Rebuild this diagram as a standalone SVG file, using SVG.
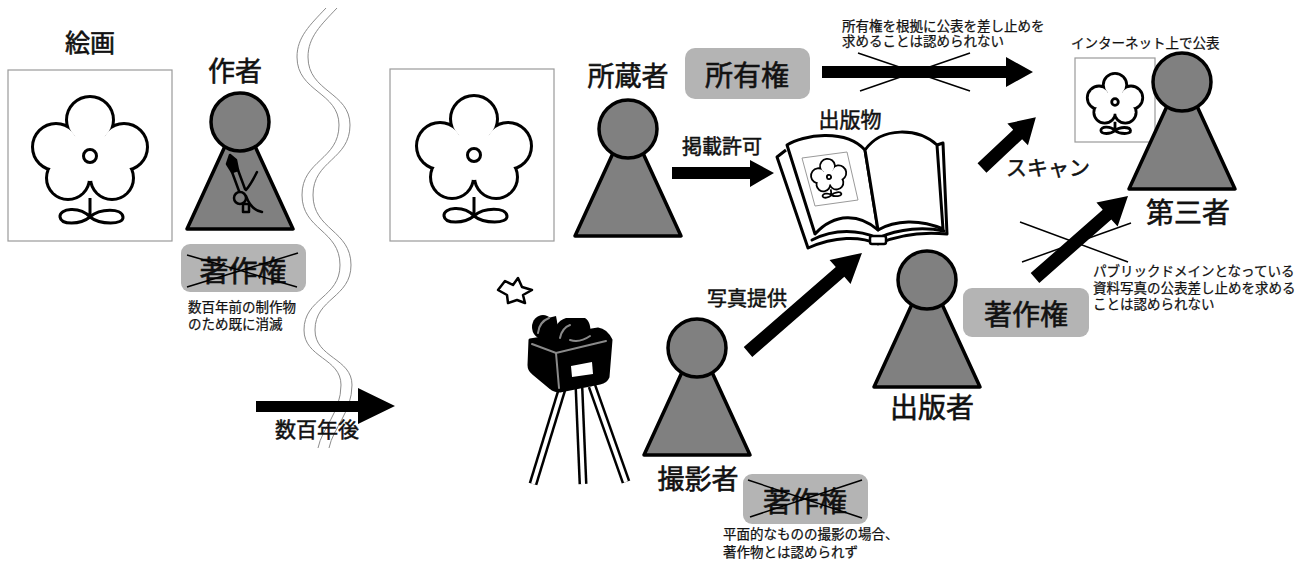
<svg xmlns="http://www.w3.org/2000/svg" width="1315" height="562" viewBox="0 0 1315 562">
<style>
  text { font-family: "Noto Sans CJK JP", "Noto Sans", sans-serif; fill: #111; stroke: #111; stroke-width: 0.6; }
  .lbl { font-size: 27px; text-anchor: middle; }
  .mid { font-size: 20px; text-anchor: middle; stroke-width: 0.5; }
  .note { font-size: 13.5px; stroke-width: 0.25; }
  .frame { fill: #fff; stroke: #9a9a9a; stroke-width: 1.2; }
  .badge { fill: #b4b4b4; }
  .body { fill: #808080; stroke: #000; stroke-width: 3.5; stroke-linejoin: round; }
  .cross { stroke: #000; stroke-width: 1.5; }
  .wave { fill: none; stroke: #8c8c8c; stroke-width: 1; }
  .arrow { fill: #000; }
  .ink { fill: none; stroke: #000; stroke-width: 3; stroke-linecap: round; stroke-linejoin: round; }
  .pg { fill: #fff; stroke: #000; stroke-width: 3; stroke-linejoin: round; }
  .gray { fill: none; stroke: #8a8a8a; stroke-width: 2; stroke-linecap: round; }
</style>
<defs>
  <!-- five petals of the flower motif -->
  <g id="petals">
    <circle cx="0" cy="-36" r="22"/>
    <circle cx="34" cy="-9" r="22"/>
    <circle cx="22" cy="22" r="20"/>
    <circle cx="-22" cy="22" r="20"/>
    <circle cx="-34" cy="-9" r="22"/>
  </g>
  <!-- full-size flower -->
  <g id="flower">
    <use href="#petals" fill="#000" stroke="#000" stroke-width="6"/>
    <use href="#petals" fill="#fff"/>
    <circle r="25" fill="#fff"/>
    <circle r="6.5" fill="none" stroke="#000" stroke-width="3"/>
    <path d="M0 42 V61 M0 61 C-10 50 -31 52 -30 61 C-29 69 -10 69 0 61 C10 52 32 52 33 61 C34 69 10 69 0 61 Z" fill="none" stroke="#000" stroke-width="3"/>
  </g>
  <!-- heavier strokes for scaled-down copies -->
  <g id="flowerSmall">
    <use href="#petals" fill="#000" stroke="#000" stroke-width="12"/>
    <use href="#petals" fill="#fff"/>
    <circle r="25" fill="#fff"/>
    <circle r="7" fill="none" stroke="#000" stroke-width="6"/>
    <path d="M0 42 V61 M0 61 C-10 50 -31 52 -30 61 C-29 69 -10 69 0 61 C10 52 32 52 33 61 C34 69 10 69 0 61 Z" fill="none" stroke="#000" stroke-width="6"/>
  </g>
  <!-- pawn-shaped person -->
  <g id="person">
    <polygon class="body" points="-14,22 14,22 53,107 -53,107"/>
    <circle class="body" r="29"/>
  </g>
</defs>

<rect width="1315" height="562" fill="#fff"/>

<!-- time divider -->
<g id="divider">
  <path class="wave" d="M326 8 C310 25 297 37 297 57 C297 92 339 92 339 125 C339 160 302 160 302 195 C302 230 340 230 340 265 C340 298 304 298 304 330 C304 358 341 358 341 385 C341 412 322 428 318 448"/>
  <path class="wave" d="M337 8 C321 25 308 37 308 57 C308 92 350 92 350 125 C350 160 313 160 313 195 C313 230 351 230 351 265 C351 298 315 298 315 330 C315 358 352 358 352 385 C352 412 333 428 329 448"/>
</g>

<!-- the painting -->
<g id="painting">
  <text class="lbl" x="90" y="52" style="font-size:25px">絵画</text>
  <rect class="frame" x="8" y="70" width="164" height="171"/>
  <use href="#flower" transform="translate(90,156)"/>
</g>

<!-- the painter -->
<g id="author">
  <text class="lbl" x="235" y="81">作者</text>
  <use href="#person" transform="translate(240,122)"/>
  <g class="ink" style="stroke-width:2.5">
    <path d="M227 164 L230 155 L236 160 L238 170 L232 172 Z" fill="#000"/>
    <path d="M232 172 L239 191 M238 170 L245 189"/>
    <circle cx="240" cy="198" r="6"/>
    <rect x="243" y="204" width="6" height="8"/>
    <path d="M257 172 Q251 184 246 190 M246 196 Q251 210 262 212"/>
  </g>
</g>

<g id="author-right">
  <rect class="badge" x="181" y="244" width="125" height="48" rx="9"/>
  <text class="lbl" x="243" y="282" style="font-size:29px">著作権</text>
  <line class="cross" x1="187" y1="255" x2="297" y2="287"/>
  <line class="cross" x1="187" y1="287" x2="298" y2="253"/>
  <text class="note" x="188" y="312">数百年前の制作物<tspan x="188" dy="17">のため既に消滅</tspan></text>
</g>

<!-- the painting centuries later -->
<g id="painting-later">
  <rect class="frame" x="390" y="69" width="164" height="172"/>
  <use href="#flower" transform="translate(474,155)"/>
</g>

<g id="owner">
  <text class="lbl" x="628" y="86">所蔵者</text>
  <use href="#person" transform="translate(628,129)"/>
</g>

<g id="ownership">
  <rect class="badge" x="685" y="48" width="125" height="51" rx="10"/>
  <text class="lbl" x="747" y="86" style="font-size:28px">所有権</text>
</g>

<g id="publication">
  <text class="mid" x="850" y="127" style="font-size:21px">出版物</text>
  <path class="pg" d="M786 150 L777 157 L808 248 C835 236 860 236 878 244 C900 234 925 232 947 234 L943 143 L937 145"/>
  <path class="pg" d="M787 145 C803 135 845 128 865 150 L878 230 C860 214 835 212 815 234 Z"/>
  <path class="pg" d="M865 150 C882 126 918 128 937 145 L943 229 C920 219 895 220 878 230 Z"/>
  <path class="ink" d="M812 240 C835 228 860 230 877 238 M878 238 C900 228 925 227 944 231"/>
  <rect x="870" y="236" width="16" height="8" rx="2" fill="#fff" stroke="#000" stroke-width="2.5"/>
  <polygon points="802,158 847,152 858,200 815,206" fill="#fff" stroke="#9a9a9a" stroke-width="1"/>
  <use href="#flowerSmall" transform="translate(829,177) rotate(-8) scale(0.3)"/>
</g>

<g id="third-party">
  <text class="note" x="1071" y="48">インターネット上で公表</text>
  <rect class="frame" x="1075" y="58" width="80" height="84"/>
  <use href="#flowerSmall" transform="translate(1115,102) scale(0.47)"/>
  <use href="#person" transform="translate(1182,82)"/>
  <text class="lbl" x="1188" y="223" style="font-size:28px">第三者</text>
</g>

<!-- photographer and camera -->
<g id="camera">
  <polygon points="498,290 505,281 513,285 518,278 522,287 532,290 523,295 525,303 517,300 508,303 507,295" fill="#fff" stroke="#000" stroke-width="2.5" stroke-linejoin="round"/>
  <g stroke-linecap="butt">
    <line x1="563" y1="386" x2="533" y2="484" stroke="#000" stroke-width="9"/>
    <line x1="563" y1="386" x2="533" y2="484" stroke="#fff" stroke-width="4"/>
    <line x1="579" y1="388" x2="583" y2="484" stroke="#000" stroke-width="9"/>
    <line x1="579" y1="388" x2="583" y2="484" stroke="#fff" stroke-width="4"/>
    <line x1="592" y1="386" x2="626" y2="482" stroke="#000" stroke-width="9"/>
    <line x1="592" y1="386" x2="626" y2="482" stroke="#fff" stroke-width="4"/>
  </g>
  <path d="M530 340 L598 329 Q606 330 611 340 L608 377 Q606 382 600 383 L560 391 Q554 391 551 388 L533 373 Q529 370 529 365 Z" fill="#000" stroke="#000" stroke-width="3" stroke-linejoin="round"/>
  <ellipse cx="543" cy="327" rx="11" ry="12" fill="#000"/>
  <path d="M540 320 L556 316 L560 338 L546 342 Z" fill="#000"/>
  <path d="M555 338 Q553 322 566 318 L585 318 Q592 322 590 338 Z" fill="#000"/>
  <path class="gray" d="M532 344 L556 353 L606 341 M556 353 L559 388"/>
  <path class="gray" d="M538 333 Q539 322 549 318 M560 338 Q562 328 570 325 M570 340 Q580 343 590 336"/>
  <polygon points="571,366 592,362 593,374 572,377" fill="#fff"/>
</g>

<g id="photographer">
  <use href="#person" transform="translate(697,348)"/>
  <text class="lbl" x="698" y="489">撮影者</text>
</g>

<g id="photographer-right">
  <rect class="badge" x="743" y="474" width="125" height="50" rx="9"/>
  <text class="lbl" x="805" y="512" style="font-size:28px">著作権</text>
  <line class="cross" x1="748" y1="480" x2="862" y2="518"/>
  <line class="cross" x1="750" y1="517" x2="862" y2="480"/>
  <text class="note" x="723" y="539">平面的なものの撮影の場合、<tspan x="723" dy="18">著作物とは認められず</tspan></text>
</g>

<g id="publisher">
  <use href="#person" transform="translate(927,280)"/>
  <text class="lbl" x="932" y="418" style="font-size:28px">出版者</text>
  <rect class="badge" x="963" y="288" width="126" height="49" rx="9"/>
  <text class="lbl" x="1026" y="325" style="font-size:28px">著作権</text>
</g>

<!-- connectors -->
<g id="connectors">
  <polygon class="arrow" points="256,401 358,401 358,388 395,406 358,424 358,412 256,412"/>
  <text class="mid" x="317" y="437" style="font-size:21px">数百年後</text>

  <polygon class="arrow" points="672,167 750,167 750,160 774,173 750,187 750,179 672,179"/>
  <text class="mid" x="722" y="154">掲載許可</text>

  <polygon class="arrow" points="822,66 1006,66 1006,57 1033,72 1006,87 1006,78 822,78"/>
  <line class="cross" x1="858" y1="53" x2="970" y2="91"/>
  <line class="cross" x1="860" y1="91" x2="970" y2="53"/>
  <text class="note" x="842" y="31">所有権を根拠に公表を差し止めを<tspan x="842" dy="15">求めることは認められない</tspan></text>

  <polygon class="arrow" transform="translate(748,352) rotate(-41)" points="0,-6.5 122,-6.5 122,-16 151,0 122,16 122,6.5 0,6.5"/>
  <text class="mid" x="747" y="306">写真提供</text>

  <polygon class="arrow" transform="translate(982,168) rotate(-43.3)" points="0,-6.5 49,-6.5 49,-15 74,0 49,15 49,6.5 0,6.5"/>
  <text class="mid" x="1048" y="175" style="font-size:21px">スキャン</text>

  <polygon class="arrow" transform="translate(1035,278) rotate(-41.4)" points="0,-6.5 96,-6.5 96,-16 124,0 96,16 96,6.5 0,6.5"/>
  <line class="cross" x1="1020" y1="222" x2="1128" y2="262"/>
  <line class="cross" x1="1022" y1="262" x2="1131" y2="223"/>
  <text class="note" x="1093" y="276">パブリックドメインとなっている<tspan x="1093" dy="17">資料写真の公表差し止めを求める</tspan><tspan x="1093" dy="16">ことは認められない</tspan></text>
</g>
</svg>
